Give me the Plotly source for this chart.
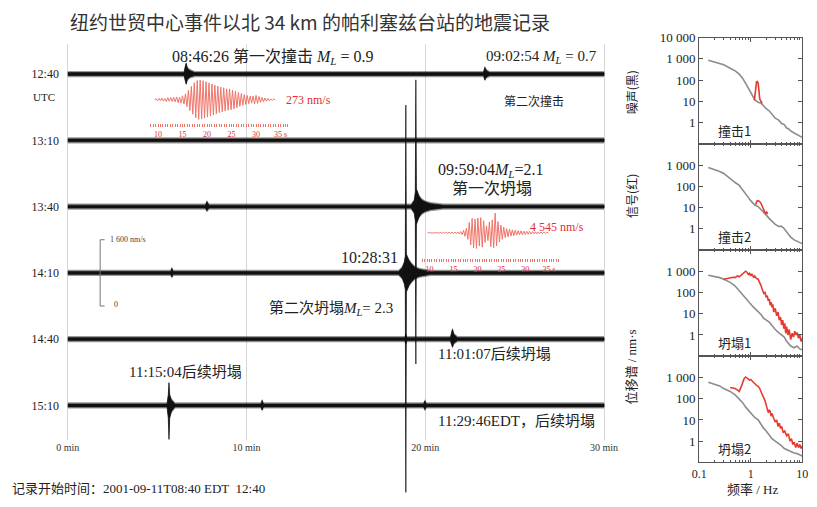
import plotly.graph_objects as go

W, H = 817, 507
SERIF = "Liberation Serif, Noto Sans CJK SC, serif"
SANS = "Noto Sans CJK SC, Noto Sans, sans-serif"
INK = "#111111"
WAVE_RED = "#ef7468"
TEXT_RED = "#dd2f35"
NOISE_GREY = "#8c8c8c"
SPEC_RED = "#e8392e"

# ---------------- seismogram (minutes after line start, envelope in nm/s) ----------------
LINE_LABELS = ["12:40", "13:10", "13:40", "14:10", "14:40", "15:10"]
LINE_STEP_NM = 1600
MIN_TICKS = [0, 10, 20, 30]
MIN_LABELS = ["0 min", "10 min", "20 min", "30 min"]

T_1240 = [0, 6.5, 6.57, 6.62, 6.7, 6.85, 7.1, 23.25, 23.33, 23.42, 23.6, 30]
UP_1240 = [35, 35, 180, 260, 130, 80, 35, 35, 160, 80, 35, 35]
DN_1240 = [35, 35, 150, 240, 120, 70, 35, 35, 140, 70, 35, 35]

T_1310 = [0, 30]
UP_1310 = [35, 35]
DN_1310 = [35, 35]

T_1340 = [0, 7.7, 7.78, 7.9, 19.2, 19.38, 19.44, 19.47, 19.5, 19.56, 19.65, 19.8, 20.0, 20.3, 20.7, 21.0, 30]
UP_1340 = [35, 35, 120, 35, 35, 150, 350, 3060, 420, 330, 250, 160, 110, 70, 50, 35, 35]
DN_1340 = [35, 35, 100, 35, 35, 150, 350, 3800, 420, 330, 250, 160, 110, 70, 50, 35, 35]

T_1410 = [0, 5.75, 5.82, 5.9, 18.5, 18.7, 18.82, 18.88, 18.91, 18.94, 19.0, 19.1, 19.25, 19.45, 19.7, 20.0, 20.3, 30]
UP_1410 = [35, 35, 110, 35, 35, 120, 250, 400, 4050, 450, 380, 290, 200, 120, 80, 55, 35, 35]
DN_1410 = [35, 35, 100, 35, 35, 120, 250, 400, 5300, 450, 380, 290, 200, 120, 80, 55, 35, 35]

T_1440 = [0, 18.85, 18.91, 18.97, 21.4, 21.47, 21.52, 21.6, 21.8, 30]
UP_1440 = [35, 35, 110, 35, 35, 180, 240, 110, 35, 35]
DN_1440 = [35, 35, 110, 35, 35, 140, 190, 90, 35, 35]

T_1510 = [0, 5.55, 5.62, 5.66, 5.7, 5.8, 6.0, 10.8, 10.87, 10.95, 19.9, 19.98, 20.06, 30]
UP_1510 = [35, 35, 250, 550, 250, 130, 35, 35, 120, 35, 35, 110, 35, 35]
DN_1510 = [35, 35, 300, 820, 300, 140, 35, 35, 110, 35, 35, 100, 35, 35]

LINES = [
    (T_1240, UP_1240, DN_1240),
    (T_1310, UP_1310, DN_1310),
    (T_1340, UP_1340, DN_1340),
    (T_1410, UP_1410, DN_1410),
    (T_1440, UP_1440, DN_1440),
    (T_1510, UP_1510, DN_1510),
]
SCALE_BAR_NM = [0, 1600]

# ---------------- red insets (seconds, nm/s), one sample per half cycle ----------------
IMPACT1_T0, IMPACT1_DT = 9.3, 0.3
IMPACT1_NM = [0, 12, -15, 18, -14, 22, -20, 16, -25, 28, -22, 30, -26, 32, -30, 38, -42, 35, -48, 55,
              -62, 80, -95, 130, -150, 185, -200, 235, -250, 265, -273, 270, -268, 262, -255, 248,
              -240, 232, -225, 218, -210, 200, -195, 188, -180, 175, -170, 165, -158, 150, -145,
              150, -140, 132, -125, 118, -110, 100, -92, 85, -78, 70, -65, 58, -55, 50, -48, 52,
              -58, 60, -52, 45, -38, 32, -28, 24, -20, 18, -15, 12, -10, 8, 0]
INSET_TICKS = [10, 15, 20, 25, 30, 35]
INSET_TICKTEXT = ["10", "15", "20", "25", "30", "35 s"]

COLLAPSE1_T0, COLLAPSE1_DT = 9.6, 0.3
COLLAPSE1_NM = [0, 80, -90, 70, -100, 90, -80, 110, -100, 90, -120, 110, -100, 130, -120, 140, -130,
                150, -160, 180, -170, 200, -250, 300, -420, 600, -800, 1100, -1500, 2400, -2800,
                3300, -3500, 3200, -3600, 3400, -3000, 3500, -3300, 2800, -2200, 1600, -1800, 2500,
                -3200, 3000, -3400, 4545, -3000, 2600, -2100, 1800, -1500, 1300, -1100, 1000, -900,
                850, -750, 700, -650, 600, -550, 520, -480, 450, -420, 400, -380, 360, -340, 320,
                -300, 280, -260, 250, -230, 220, -200, 190, -170, 160, -140, 120, 0]

# ---------------- displacement spectra (Hz, nm*s) ----------------
F_NOISE = [0.15, 0.2, 0.25, 0.3, 0.4, 0.5, 0.6, 0.7, 0.8, 0.9, 1.0, 1.1, 1.2, 1.4, 1.6, 1.8, 2.0,
           2.3, 2.6, 3.0, 3.5, 4.0, 4.5, 5.0, 5.5, 6, 7, 8, 9, 10]
NOISE_IMPACT1 = [850, 700, 600, 520, 360, 270, 190, 120, 70, 40, 25, 16, 12, 9, 8, 6, 4.5, 3.5, 2.5,
                 1.6, 1.3, 0.9, 0.8, 0.55, 0.5, 0.4, 0.32, 0.26, 0.23, 0.2]
NOISE_IMPACT2 = [760, 620, 500, 400, 220, 150, 110, 70, 45, 30, 21, 16, 13, 11, 8, 6, 4.5, 3, 2.2,
                 1.6, 1.3, 1.3, 1.0, 0.7, 0.5, 0.4, 0.3, 0.25, 0.22, 0.2]
NOISE_COLLAPSE1 = [650, 580, 500, 420, 300, 200, 120, 75, 50, 35, 28, 22, 18, 13, 9, 6, 5, 4, 2.8,
                   1.8, 1.3, 1.0, 0.8, 0.5, 0.4, 0.3, 0.25, 0.3, 0.22, 0.2]
NOISE_COLLAPSE2 = [600, 500, 400, 300, 220, 150, 100, 65, 40, 28, 20, 16, 13, 10, 6, 4, 3, 2, 1.3,
                   1.0, 0.8, 0.6, 0.45, 0.4, 0.35, 0.32, 0.28, 0.26, 0.22, 0.2]

F_SIG_IMPACT1 = [1.18, 1.22, 1.26, 1.3, 1.35, 1.4, 1.45, 1.5, 1.58, 1.68]
SIG_IMPACT1 = [11, 25, 60, 82, 85, 70, 30, 13, 10, 8]
F_SIG_IMPACT2 = [1.25, 1.32, 1.4, 1.5, 1.6, 1.7, 1.85, 1.95, 2.05, 2.15]
SIG_IMPACT2 = [14, 20, 21, 19, 15, 10, 7, 5, 6, 5]
F_SIG_COLLAPSE1 = [0.3, 0.35, 0.4, 0.45, 0.5, 0.55, 0.6, 0.65, 0.7, 0.75, 0.8, 0.85, 0.9, 0.95, 1.0,
                   1.05, 1.1, 1.15, 1.2, 1.3, 1.4, 1.5, 1.6, 1.7, 1.8, 1.9, 2.0, 2.1, 2.2, 2.3, 2.4,
                   2.5, 2.6, 2.7, 2.8, 3.0, 3.2, 3.4, 3.6, 3.8, 4.0, 4.2, 4.4, 4.6, 4.8, 5.0, 5.3,
                   5.6, 6.0, 6.4, 6.8, 7.2, 7.6, 8.0, 8.5, 9.0, 9.5, 10]
SIG_COLLAPSE1 = [420, 450, 480, 520, 500, 600, 550, 650, 800, 950, 1000, 900, 700, 800, 600, 750, 550,
                 500, 600, 450, 420, 300, 200, 130, 90, 100, 60, 70, 40, 50, 25, 35, 20, 28, 12, 18,
                 8, 12, 5, 7, 3, 5, 2, 3.5, 1.2, 2.5, 1, 1.8, 0.6, 1.2, 0.8, 1.5, 1.0, 1.3, 0.7, 1.0,
                 0.5, 0.7]
F_SIG_COLLAPSE2 = [0.4, 0.45, 0.5, 0.55, 0.6, 0.65, 0.7, 0.75, 0.8, 0.85, 0.9, 0.95, 1.0, 1.05, 1.1,
                   1.2, 1.3, 1.4, 1.5, 1.6, 1.7, 1.8, 1.9, 2.0, 2.1, 2.2, 2.3, 2.4, 2.5, 2.6, 2.8,
                   3.0, 3.2, 3.4, 3.6, 3.8, 4.0, 4.3, 4.6, 5.0, 5.4, 5.8, 6.2, 6.6, 7.0, 7.5, 8.0,
                   8.5, 9.0, 9.5, 10]
SIG_COLLAPSE2 = [340, 330, 300, 260, 220, 350, 600, 900, 1050, 950, 850, 750, 800, 700, 600, 500, 420,
                 380, 300, 200, 130, 110, 80, 50, 30, 22, 30, 25, 15, 20, 12, 8, 10, 5, 7, 4, 5, 2.5,
                 3, 1.8, 2.2, 1.0, 1.3, 0.7, 0.9, 0.5, 0.8, 0.5, 0.7, 0.45, 0.6]

SPECTRA = [
    ("撞击1", NOISE_IMPACT1, F_SIG_IMPACT1, SIG_IMPACT1),
    ("撞击2", NOISE_IMPACT2, F_SIG_IMPACT2, SIG_IMPACT2),
    ("坍塌1", NOISE_COLLAPSE1, F_SIG_COLLAPSE1, SIG_COLLAPSE1),
    ("坍塌2", NOISE_COLLAPSE2, F_SIG_COLLAPSE2, SIG_COLLAPSE2),
]


def px_x(p):
    return p / W


def px_y(p):
    return 1 - p / H


# pixel geometry of the main record
X0_PX, X30_PX = 61, 608
MIN_PX = (X30_PX - X0_PX) / 30
MAIN_L, MAIN_R = 53, 614
TRACE0_PX = 68
NM_PX = 67.2 / LINE_STEP_NM
MAIN_TOP, GRID_BOTTOM, MAIN_BOTTOM = 38, 439, 496
main_xrange = [(MAIN_L - X0_PX) / MIN_PX, 30 + (MAIN_R - X30_PX) / MIN_PX]

fig = go.Figure()

# grid layer (x/y): only vertical minute grid and its labels
fig.add_trace(go.Scatter(x=[0], y=[0], mode="markers", marker=dict(opacity=0),
                         hoverinfo="skip", xaxis="x", yaxis="y"))

# seismogram lines (x2/y2): soft halo + dark core
for k, (t, up, dn) in enumerate(LINES):
    off = -k * LINE_STEP_NM
    halo_y = [off + u + 40 for u in up] + [off - d - 40 for d in dn[::-1]]
    core_y = [off + u for u in up] + [off - d for d in dn[::-1]]
    xs = list(t) + list(t[::-1])
    fig.add_trace(go.Scatter(x=xs, y=halo_y, fill="toself", fillcolor="rgba(0,0,0,0.4)",
                             line=dict(width=0), mode="lines", hoverinfo="skip",
                             xaxis="x2", yaxis="y2"))
    fig.add_trace(go.Scatter(x=xs, y=core_y, fill="toself", fillcolor=INK,
                             line=dict(width=0.7, color=INK), mode="lines", hoverinfo="skip",
                             xaxis="x2", yaxis="y2"))

# scale bar 1 600 nm/s
bar_x = (94 - X0_PX) / MIN_PX
bar_bottom = -3.5 * LINE_STEP_NM
bar_y = [bar_bottom + v for v in SCALE_BAR_NM]
fig.add_trace(go.Scatter(x=[bar_x + 0.25, bar_x, bar_x, bar_x + 0.25],
                         y=[bar_y[1], bar_y[1], bar_y[0], bar_y[0]],
                         mode="lines", line=dict(color="#777", width=1), hoverinfo="skip",
                         xaxis="x2", yaxis="y2"))

# red insets
fig.add_trace(go.Scatter(x0=IMPACT1_T0, dx=IMPACT1_DT, y=IMPACT1_NM, mode="lines",
                         line=dict(color=WAVE_RED, width=1), xaxis="x3", yaxis="y3"))
fig.add_trace(go.Scatter(x0=COLLAPSE1_T0, dx=COLLAPSE1_DT, y=COLLAPSE1_NM, mode="lines",
                         line=dict(color=WAVE_RED, width=1), xaxis="x4", yaxis="y4"))

# spectra
for i, (name, noise, fs, sig) in enumerate(SPECTRA):
    ax = str(5 + i)
    fig.add_trace(go.Scatter(x=F_NOISE, y=noise, mode="lines",
                             line=dict(color=NOISE_GREY, width=1.6), xaxis="x" + ax, yaxis="y" + ax))
    fig.add_trace(go.Scatter(x=fs, y=sig, mode="lines",
                             line=dict(color=SPEC_RED, width=1.6), xaxis="x" + ax, yaxis="y" + ax))

layout = dict(
    width=W, height=H, margin=dict(l=0, r=0, t=0, b=0),
    paper_bgcolor="white", plot_bgcolor="rgba(0,0,0,0)", showlegend=False,
    font=dict(family=SERIF, color="#222"),
    xaxis=dict(domain=[px_x(MAIN_L), px_x(MAIN_R)], range=main_xrange, anchor="y",
               tickvals=MIN_TICKS, ticktext=MIN_LABELS, showgrid=True, gridcolor="#d6d6d6",
               gridwidth=1, zeroline=False, showline=False, ticks="",
               tickfont=dict(size=10, family=SERIF, color="#333")),
    yaxis=dict(domain=[px_y(GRID_BOTTOM), px_y(MAIN_TOP)], range=[0, 1], visible=False),
    xaxis2=dict(domain=[px_x(MAIN_L), px_x(MAIN_R)], range=main_xrange, anchor="y2",
                visible=False),
    yaxis2=dict(domain=[px_y(MAIN_BOTTOM), px_y(MAIN_TOP)], anchor="x2",
                range=[-(MAIN_BOTTOM - TRACE0_PX) / NM_PX, (TRACE0_PX - MAIN_TOP) / NM_PX],
                tickvals=[-k * LINE_STEP_NM for k in range(len(LINE_LABELS))],
                ticktext=LINE_LABELS, showgrid=False, zeroline=False, showline=False, ticks="",
                tickfont=dict(size=12, family=SERIF, color="#222")),
)

# inset 1 axes: 10 s at 153 px, 35 s at 278 px, baseline 94 px, 273 nm/s = 20 px
s1 = (278 - 153) / 25
a1 = 20 / 273
layout["xaxis3"] = dict(domain=[px_x(145), px_x(287)], anchor="y3",
                        range=[10 - (153 - 145) / s1, 35 + (287 - 278) / s1],
                        tickvals=INSET_TICKS, ticktext=INSET_TICKTEXT, ticks="outside",
                        ticklen=3, tickcolor=WAVE_RED, showgrid=False, zeroline=False,
                        showline=False, tickfont=dict(size=8, color=TEXT_RED),
                        minor=dict(dtick=0.5, ticks="outside", ticklen=3, tickcolor=WAVE_RED))
layout["yaxis3"] = dict(domain=[px_y(118), px_y(70)], anchor="x3", range=[-24 / a1, 24 / a1],
                        visible=False)

# inset 2 axes: 10 s at 430 px, 35 s at 552 px, baseline 229 px, 4 545 nm/s = 20 px
s2 = (552 - 430) / 25
a2 = 20 / 4545
layout["xaxis4"] = dict(domain=[px_x(422), px_x(563)], anchor="y4",
                        range=[10 - (430 - 422) / s2, 35 + (563 - 552) / s2],
                        tickvals=INSET_TICKS, ticktext=INSET_TICKTEXT, ticks="outside",
                        ticklen=3, tickcolor=WAVE_RED, showgrid=False, zeroline=False,
                        showline=False, tickfont=dict(size=8, color=TEXT_RED),
                        minor=dict(dtick=0.5, ticks="outside", ticklen=3, tickcolor=WAVE_RED))
layout["yaxis4"] = dict(domain=[px_y(255), px_y(204)], anchor="x4", range=[-26 / a2, 25 / a2],
                        visible=False)

# spectra panels
SPEC_L, SPEC_R, SPEC_TOP, SPEC_H = 705, 810, 31, 107.7
minor_f = [0.2, 0.3, 0.4, 0.5, 0.6, 0.7, 0.8, 0.9, 2, 3, 4, 5, 6, 7, 8, 9]
for i in range(4):
    ax = str(5 + i)
    top = SPEC_TOP + i * SPEC_H
    yt = [1, 10, 100, 1000, 10000] if i == 0 else [1, 10, 100, 1000]
    ytt = ["1", "10", "100", "1 000", "10 000"][:len(yt)]
    layout["xaxis" + ax] = dict(
        domain=[px_x(SPEC_L), px_x(SPEC_R)], anchor="y" + ax, type="log", range=[-1, 1],
        tickvals=[0.1, 1, 10], ticktext=["0.1", "1", "10"], showticklabels=(i == 3),
        ticks="inside", ticklen=4, tickcolor="#555", showline=True, linecolor="#555",
        linewidth=1, mirror="allticks", showgrid=False, zeroline=False,
        tickfont=dict(size=12, family=SERIF, color="#222"),
        minor=dict(tickvals=minor_f, ticks="inside", ticklen=2, tickcolor="#555"))
    layout["yaxis" + ax] = dict(
        domain=[px_y(top + SPEC_H), px_y(top)], anchor="x" + ax, type="log", range=[-1, 4],
        tickvals=yt, ticktext=ytt, ticks="inside", ticklen=4, tickcolor="#555",
        showline=True, linecolor="#555", linewidth=1, mirror="allticks", showgrid=False,
        zeroline=False, tickfont=dict(size=13, family=SERIF, color="#222"))

fig.update_layout(**layout)

annotations = []


def ann(text, x, y, size=16, xanchor="left", color="#222", family=SERIF, angle=0):
    annotations.append(dict(text=text, x=px_x(x), y=px_y(y), xref="paper", yref="paper",
                            xanchor=xanchor, yanchor="middle", showarrow=False, textangle=angle,
                            font=dict(size=size, color=color, family=family)))


ML = "<i>M</i><sub><i>L</i></sub>"
ann("纽约世贸中心事件以北 34 km 的帕利塞兹台站的地震记录", 61, 15, size=19, family=SANS,
    color="#333")
ann("08:46:26 第一次撞击 " + ML + " = 0.9", 165, 51)
ann("09:02:54 " + ML + " = 0.7", 485, 51, size=15)
ann("UTC", 37, 91, size=11, xanchor="center")
ann("第二次撞击", 537, 96, size=12, xanchor="center")
ann("273 nm/s", 282, 94, size=12, color=TEXT_RED)
ann("09:59:04" + ML + "=2.1", 437, 166)
ann("第一次坍塌", 451, 184)
ann("4 545 nm/s", 530, 223, size=12, color=TEXT_RED)
ann("1 600 nm/s", 102, 236, size=8, color="#444")
ann("0", 106, 302, size=8, color="#444")
ann("10:28:31", 338, 254)
ann("第二次坍塌" + ML + "= 2.3", 264, 306, size=15)
ann("11:01:07后续坍塌", 437, 352, size=15)
ann("11:15:04后续坍塌", 121, 370, size=15)
ann("11:29:46EDT，后续坍塌", 437, 420, size=15)
ann("记录开始时间：2001-09-11T08:40 EDT  12:40", 2, 488, size=13)

for i, (name, _, _, _) in enumerate(SPECTRA):
    ann(name, 722, 125 + i * 107.5, size=13, family=SANS)
ann("噪声(黑)", 636, 87, size=12, xanchor="center", family=SANS, angle=-90)
ann("信号(红)", 636, 192, size=12, xanchor="center", family=SANS, angle=-90)
ann("位移谱 / nm·s", 636, 365, size=13, xanchor="center", angle=-90)
ann("频率 / Hz", 760, 489, size=13, xanchor="center")

fig.update_layout(annotations=annotations)
fig.write_html("out.html", config={"displayModeBar": False},
               post_script="document.body.style.margin='0';")
